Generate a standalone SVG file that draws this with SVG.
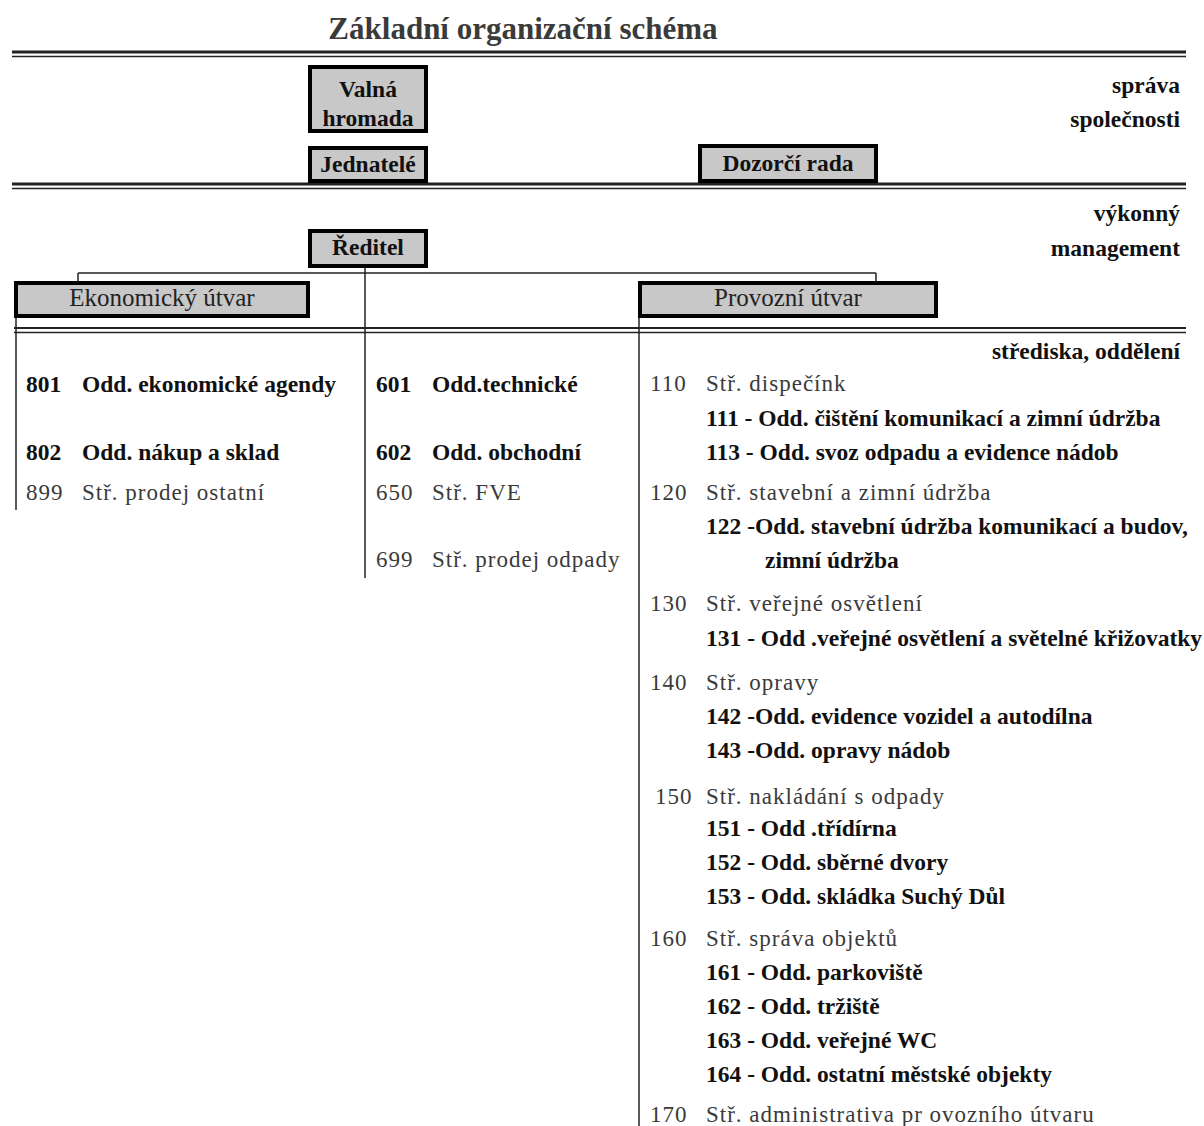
<svg xmlns="http://www.w3.org/2000/svg" width="1204" height="1126" viewBox="0 0 1204 1126" font-family="'Liberation Serif', 'DejaVu Serif', serif">
<style>
text{font-family:'Liberation Serif','DejaVu Serif',serif;font-size:23.5px}
.b{font-weight:bold;fill:#111}
.r{fill:#3a3a3a;font-size:23px;letter-spacing:1px}
.box{fill:#c8c8c8;stroke:#000;stroke-width:4}
.bt{font-weight:bold;fill:#111;text-anchor:middle;font-size:23.5px}
.bn{fill:#222;text-anchor:middle;font-size:25px}
.rt{font-weight:bold;fill:#111;text-anchor:end}
.ln{stroke:#222;fill:none}
</style>
<rect width="1204" height="1126" fill="#fff"/>
<text x="523" y="39" text-anchor="middle" style="font-size:31px;fill:#3a3a3a;font-weight:bold">Základní organizační schéma</text>
<g id="rules" class="ln">
<line x1="12" y1="52" x2="1186" y2="52" stroke-width="3"/>
<line x1="12" y1="56.5" x2="1186" y2="56.5" stroke-width="1.5"/>
<line x1="12" y1="184" x2="1186" y2="184" stroke-width="3"/>
<line x1="12" y1="188.5" x2="1186" y2="188.5" stroke-width="1.5"/>
<line x1="14" y1="328" x2="1186" y2="328" stroke-width="2"/>
<line x1="14" y1="332.5" x2="1186" y2="332.5" stroke-width="1.5"/>
</g>
<g id="labels">
<text class="rt" x="1180" y="93">správa</text>
<text class="rt" x="1180" y="127">společnosti</text>
<text class="rt" x="1180" y="221">výkonný</text>
<text class="rt" x="1180" y="256">management</text>
<text class="rt" x="1180" y="359">střediska, oddělení</text>
</g>
<g id="connectors" class="ln" stroke-width="1.5">
<line x1="365" y1="267" x2="365" y2="578"/>
<line x1="78" y1="273" x2="876" y2="273"/>
<line x1="78" y1="273" x2="78" y2="281"/>
<line x1="876" y1="273" x2="876" y2="281"/>
<line x1="16" y1="317" x2="16" y2="510"/>
<line x1="639" y1="317" x2="639" y2="1126"/>
</g>
<g id="valna-hromada">
<rect class="box" x="310" y="67" width="116" height="64"/>
<text class="bt" x="368" y="97">Valná</text>
<text class="bt" x="368" y="126">hromada</text>
</g>
<g id="jednatele">
<rect class="box" x="310" y="148" width="116" height="33"/>
<text class="bt" x="368" y="172">Jednatelé</text>
</g>
<g id="dozorci-rada">
<rect class="box" x="700" y="146" width="176" height="35"/>
<text class="bt" x="788" y="171">Dozorčí rada</text>
</g>
<g id="reditel">
<rect class="box" x="310" y="231" width="116" height="35"/>
<text class="bt" x="368" y="255">Ředitel</text>
</g>
<g id="ekonomicky-utvar">
<rect class="box" x="16" y="283" width="292" height="33"/>
<text class="bn" x="162" y="306">Ekonomický útvar</text>
</g>
<g id="provozni-utvar">
<rect class="box" x="640" y="283" width="296" height="33"/>
<text class="bn" x="788" y="306">Provozní útvar</text>
</g>
<g id="ekonomicky-list">
<text class="b" x="26" y="392">801</text><text class="b" x="82" y="392">Odd. ekonomické agendy</text>
<text class="b" x="26" y="460">802</text><text class="b" x="82" y="460">Odd. nákup a sklad</text>
<text class="r" x="26" y="500">899</text><text class="r" x="82" y="500">Stř. prodej ostatní</text>
</g>
<g id="reditel-list">
<text class="b" x="376" y="392">601</text><text class="b" x="432" y="392">Odd.technické</text>
<text class="b" x="376" y="460">602</text><text class="b" x="432" y="460">Odd. obchodní</text>
<text class="r" x="376" y="500">650</text><text class="r" x="432" y="500">Stř. FVE</text>
<text class="r" x="376" y="567">699</text><text class="r" x="432" y="567">Stř. prodej odpady</text>
</g>
<g id="provozni-list">
<text class="r" x="650" y="391">110</text><text class="r" x="706" y="391">Stř. dispečínk</text>
<text class="b" x="706" y="426">111 - Odd. čištění komunikací a zimní údržba</text>
<text class="b" x="706" y="460">113 - Odd. svoz odpadu a evidence nádob</text>
<text class="r" x="650" y="500">120</text><text class="r" x="706" y="500">Stř. stavební a zimní údržba</text>
<text class="b" x="706" y="534">122 -Odd. stavební údržba komunikací a budov,</text>
<text class="b" x="765" y="568">zimní údržba</text>
<text class="r" x="650" y="611">130</text><text class="r" x="706" y="611">Stř. veřejné osvětlení</text>
<text class="b" x="706" y="646">131 - Odd .veřejné osvětlení a světelné křižovatky</text>
<text class="r" x="650" y="690">140</text><text class="r" x="706" y="690">Stř. opravy</text>
<text class="b" x="706" y="724">142 -Odd. evidence vozidel a autodílna</text>
<text class="b" x="706" y="758">143 -Odd. opravy nádob</text>
<text class="r" x="655" y="804">150</text><text class="r" x="706" y="804">Stř. nakládání s odpady</text>
<text class="b" x="706" y="836">151 - Odd .třídírna</text>
<text class="b" x="706" y="870">152 - Odd. sběrné dvory</text>
<text class="b" x="706" y="904">153 - Odd. skládka Suchý Důl</text>
<text class="r" x="650" y="946">160</text><text class="r" x="706" y="946">Stř. správa objektů</text>
<text class="b" x="706" y="980">161 - Odd. parkoviště</text>
<text class="b" x="706" y="1014">162 - Odd. tržiště</text>
<text class="b" x="706" y="1048">163 - Odd. veřejné WC</text>
<text class="b" x="706" y="1082">164 - Odd. ostatní městské objekty</text>
<text class="r" x="650" y="1122">170</text><text class="r" x="706" y="1122">Stř. administrativa pr ovozního útvaru</text>
</g>
</svg>
